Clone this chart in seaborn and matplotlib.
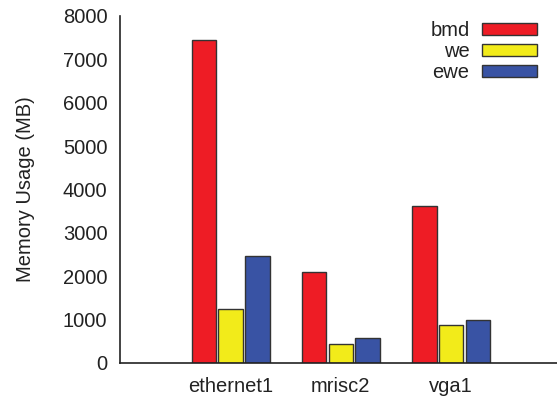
import matplotlib
matplotlib.use("Agg")
import matplotlib.pyplot as plt
import seaborn as sns
import pandas as pd

categories = ["ethernet1", "mrisc2", "vga1"]
series_names = ["bmd", "we", "ewe"]
bmd = [7450, 2090, 3620]
we = [1240, 430, 870]
ewe = [2465, 585, 990]
colors = ["#EE1C25", "#F2EB1A", "#3953A4"]
yticks = [0, 1000, 2000, 3000, 4000, 5000, 6000, 7000, 8000]

rows = []
for name, vals in zip(series_names, [bmd, we, ewe]):
    for c, v in zip(categories, vals):
        rows.append({"bench": c, "method": name, "value": v})
df = pd.DataFrame(rows)

sns.set_theme(style="white")
plt.rcParams["font.family"] = ["Liberation Sans", "DejaVu Sans"]

FS = 14.5
fig = plt.figure(figsize=(5.57, 3.96), dpi=100)
ax = fig.add_axes([120/557, 33/396, 437/557, 347/396])

sns.barplot(data=df, x="bench", y="value", hue="method", order=categories,
            hue_order=series_names, palette=colors, width=0.73, gap=0.08,
            edgecolor="#333333", linewidth=1.0, saturation=1, ax=ax,
            errorbar=None)

ax.set_xlim(-1.005, 2.962)
ax.set_ylim(0, 8000)
ax.set_yticks(yticks)
ax.set_yticklabels([str(t) for t in yticks])
ax.tick_params(axis="both", length=0, labelsize=FS, colors="#222222")
ax.tick_params(axis="y", pad=9)
ax.tick_params(axis="x", pad=10)
ax.set_xlabel("")
ax.set_ylabel("Memory Usage (MB)", fontsize=FS, color="#222222")
ax.yaxis.set_label_coords(-(120 - 35)/437, 0.5)

for s in ["top", "right"]:
    ax.spines[s].set_visible(False)
for s in ["left", "bottom"]:
    ax.spines[s].set_color("#222222")
    ax.spines[s].set_linewidth(1.2)

leg = ax.legend(loc="upper right", bbox_to_anchor=(537/557, 1 - 21/396),
                bbox_transform=fig.transFigure, frameon=False,
                markerfirst=False, fontsize=FS, handlelength=2.75,
                handleheight=0.5, labelspacing=0.1, handletextpad=0.6,
                borderpad=0, borderaxespad=0)
for t in leg.get_texts():
    t.set_color("#222222")

fig.savefig("out.png", dpi=100)
